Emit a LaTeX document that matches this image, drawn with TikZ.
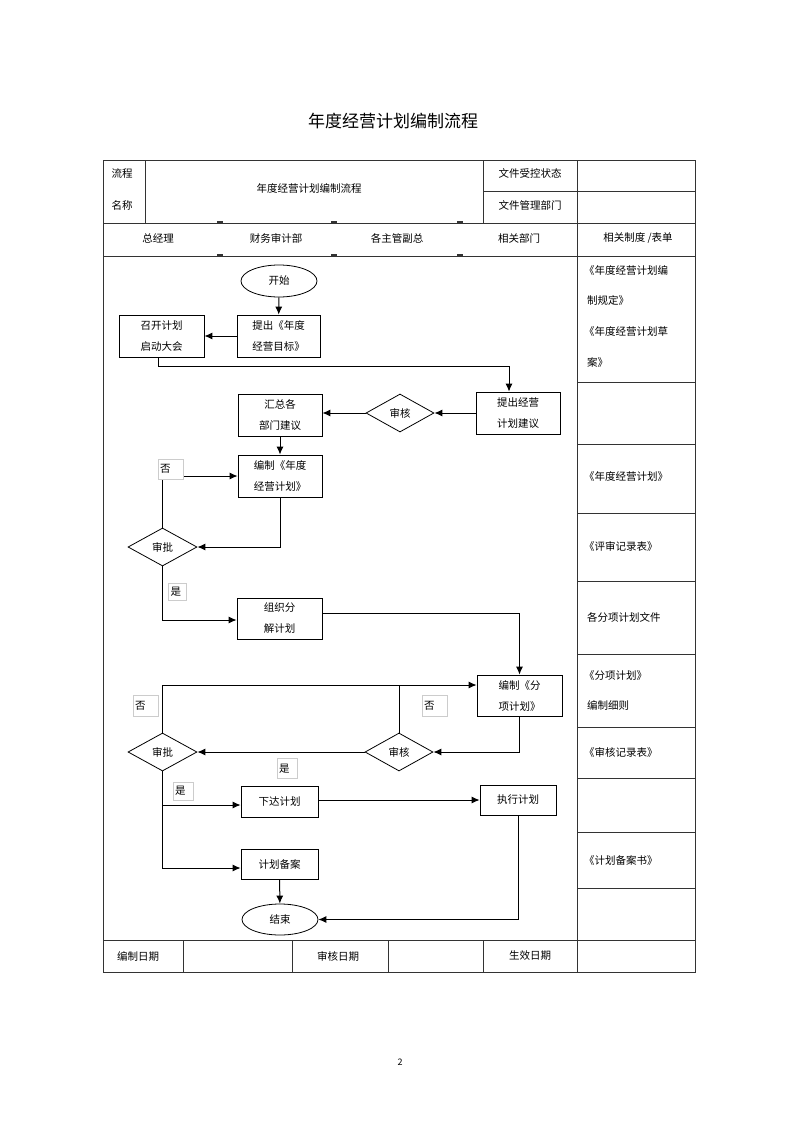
\documentclass[tikz,border=0pt]{standalone}
\usepackage{fontspec}
\usetikzlibrary{shapes.geometric,arrows.meta}
\newfontfamily\cjk{Noto Sans CJK SC}
\begin{document}
\begin{tikzpicture}[x=1pt,y=-1pt,
  txt/.style={font=\cjk\fontsize{10.5}{21}\selectfont, inner sep=0pt, align=center},
  tbl/.style={line width=0.8pt, draw=black!80},
  box/.style={txt, draw, line width=0.8pt},
  term/.style={txt, draw, ellipse, line width=0.8pt, minimum width=76pt, minimum height=32pt},
  dec/.style={txt, draw, diamond, line width=0.8pt, minimum width=68pt, minimum height=38pt},
  conn/.style={line width=1pt},
  arr/.style={conn, -{Latex[length=8pt,width=7pt]}},
  lab/.style={font=\cjk\fontsize{10.5}{12}\selectfont, draw=black!20, line width=0.4pt, fill=white, inner sep=2pt, align=left},
  tick/.style={line width=1.6pt, draw=black!80}
]
\useasboundingbox (0,0) rectangle (800,1133);
\fill[white] (0,0) rectangle (800,1133);

% title
\node[txt, font=\cjk\fontsize{17}{20}\selectfont] (title) at (393,121) {年度经营计划编制流程};

% table frame
\draw[tbl] (103,160) rectangle (695,972);
\draw[tbl] (103,223) -- (695,223);
\draw[tbl] (103,256) -- (695,256);
\draw[tbl] (103,940) -- (695,940);
\draw[tbl] (483,191) -- (695,191);
\draw[tbl] (145,160) -- (145,223);
\draw[tbl] (483,160) -- (483,223);
\draw[tbl] (577,160) -- (577,972);
\foreach \yy in {382,444,513,581,654,727,778,832,888}
  \draw[tbl] (577,\yy) -- (695,\yy);
\foreach \xx in {183,292,388,483}
  \draw[tbl] (\xx,940) -- (\xx,972);
\foreach \xx in {220,334,460}{
  \draw[tick] (\xx-3,222) -- (\xx+3,222);
  \draw[tick] (\xx-3,255) -- (\xx+3,255);
}

% header texts
\node[txt] (h1) at (122,173) {流程};
\node[txt] (h2) at (122,205) {名称};
\node[txt] (h3) at (309,188) {年度经营计划编制流程};
\node[txt] (h4) at (530,173) {文件受控状态};
\node[txt] (h5) at (530,205) {文件管理部门};
\node[txt] (l1) at (158,238) {总经理};
\node[txt] (l2) at (276,238) {财务审计部};
\node[txt] (l3) at (397,238) {各主管副总};
\node[txt] (l4) at (519,238) {相关部门};
\node[txt] (l5) at (638,238) {相关制度 /表单};

% right column
\node[txt, anchor=west] (r1) at (584,271) {《年度经营计划编};
\node[txt, anchor=west] (r2) at (587,300) {制规定》};
\node[txt, anchor=west] (r3) at (584,332) {《年度经营计划草};
\node[txt, anchor=west] (r4) at (587,363) {案》};
\node[txt, anchor=west] (r5) at (584,477) {《年度经营计划》};
\node[txt, anchor=west] (r6) at (584,546) {《评审记录表》};
\node[txt, anchor=west] (r7) at (587,617) {各分项计划文件};
\node[txt, anchor=west] (r8) at (584,675) {《分项计划》};
\node[txt, anchor=west] (r9) at (587,705) {编制细则};
\node[txt, anchor=west] (r10) at (584,752) {《审核记录表》};
\node[txt, anchor=west] (r11) at (584,860) {《计划备案书》};

% bottom row
\node[txt] (b1) at (138,956) {编制日期};
\node[txt] (b2) at (338,956) {审核日期};
\node[txt] (b3) at (530,956) {生效日期};

% page number
\node[txt, font=\cjk\fontsize{9}{10}\selectfont] (pg) at (400,1062) {2};

% flow nodes
\node[term] (start) at (279,281) {开始};
\node[box, minimum width=83pt, minimum height=42pt] (goal) at (278.5,336) {提出《年度\\经营目标》};
\node[box, minimum width=85pt, minimum height=42pt] (meet) at (161.5,336) {召开计划\\启动大会};
\node[box, minimum width=84pt, minimum height=42pt] (sugg) at (518,413) {提出经营\\计划建议};
\node[dec] (rev1) at (400,413) {审核};
\node[box, minimum width=84pt, minimum height=42pt] (sum) at (280,415) {汇总各\\部门建议};
\node[box, minimum width=84pt, minimum height=42pt] (draft) at (280,476) {编制《年度\\经营计划》};
\node[dec, minimum width=69pt] (app1) at (162.5,547) {审批};
\node[box, minimum width=85pt, minimum height=41pt] (dec) at (279.5,618.5) {组织分\\解计划};
\node[box, minimum width=85pt, minimum height=41pt] (sub) at (519.5,695.5) {编制《分\\项计划》};
\node[dec] (rev2) at (399,752) {审核};
\node[dec, minimum width=69pt] (app2) at (162.5,752) {审批};
\node[box, minimum width=77pt, minimum height=31pt] (issue) at (279.5,801.5) {下达计划};
\node[box, minimum width=76pt, minimum height=30pt] (exec) at (518,800) {执行计划};
\node[box, minimum width=77pt, minimum height=30pt] (file) at (279.5,864) {计划备案};
\node[term, minimum height=31pt] (end) at (280,919.5) {结束};

% connectors
\draw[arr] (start) -- (goal);
\draw[arr] (goal) -- (meet);
\coordinate (j1) at (509,366);
\draw[arr] ([xshift=-3.5pt]meet.south) |- (j1) -- (j1 |- sugg.north);
\draw[arr] (sugg) -- (rev1);
\draw[arr] (rev1.west) -- (rev1.west -| sum.east);
\draw[arr] (sum) -- (draft);
\draw[arr] (draft.south) |- (app1.east);
\draw[arr] (app1.north) |- (draft.west);
\draw[arr] (app1.south) |- ([yshift=-1.5pt]dec.west);
\draw[arr] ([yshift=5.5pt]dec.east) -| (sub.north);
\draw[arr] (sub.south) |- (rev2.east);
\draw[arr] (rev2) -- (app2);
\coordinate (j2) at ([yshift=10.5pt]sub.west);
\draw[arr] (app2.north) |- (j2);
\draw[conn] (rev2.north) -- (rev2.north |- j2);
\draw[arr] (app2.south) |- ([yshift=-3.5pt]issue.west);
\draw[arr] (app2.south) |- ([yshift=-4pt]file.west);
\draw[arr] (issue.east |- exec.west) -- (exec.west);
\draw[arr] (exec.south) |- (end.east);
\draw[arr] (file) -- (end);

% branch labels
\node[lab, minimum width=25pt, minimum height=20pt, text width=21pt] (no1) at (170.5,469) {否};
\node[lab, minimum width=18pt, minimum height=17pt, text width=14pt] (yes1) at (177.5,591.5) {是};
\node[lab, minimum width=25pt, minimum height=21pt, text width=21pt] (no2) at (145.5,706) {否};
\node[lab, minimum width=25pt, minimum height=21pt, text width=21pt] (no3) at (434.5,706) {否};
\node[lab, minimum width=20pt, minimum height=20pt, text width=16pt] (yes2) at (287,768.5) {是};
\node[lab, minimum width=20pt, minimum height=18pt, text width=16pt] (yes3) at (183,791) {是};
\end{tikzpicture}
\end{document}
